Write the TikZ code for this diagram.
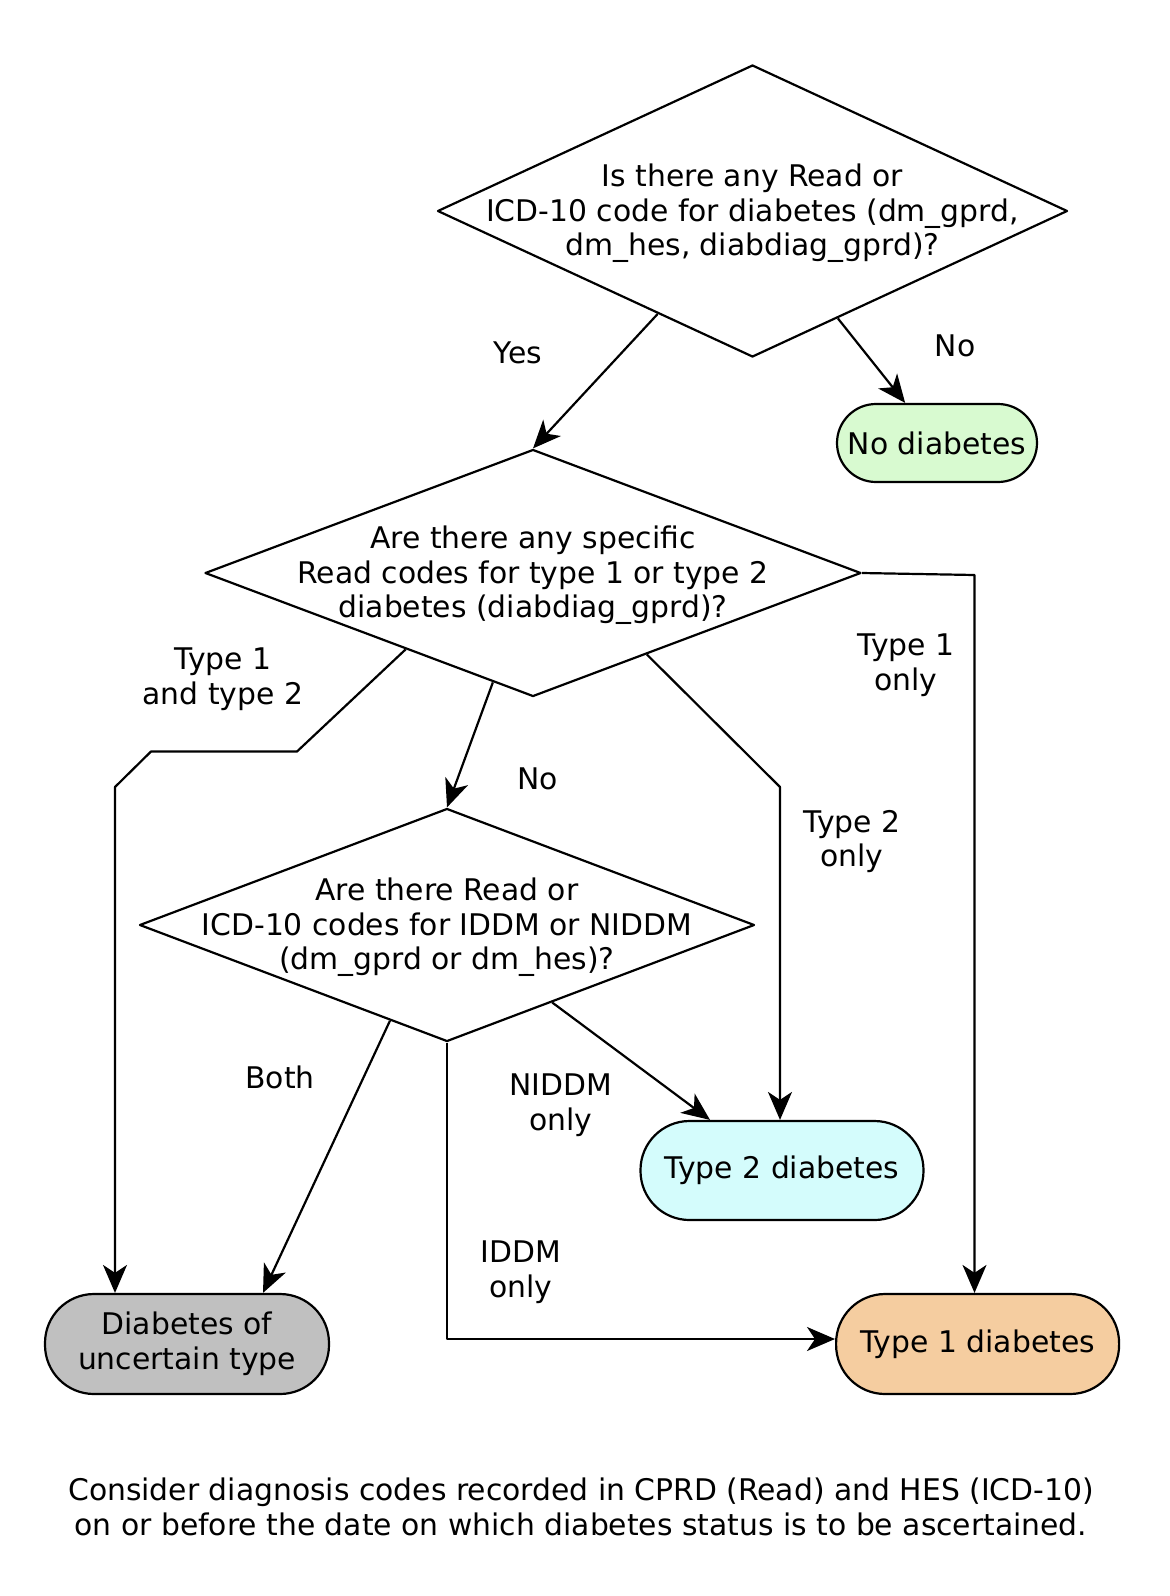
\documentclass[tikz,border=0pt]{standalone}
\usepackage{fontspec}
\setmainfont{DejaVu Sans}
\usetikzlibrary{shapes.geometric,arrows.meta,calc}
\definecolor{nodiab}{HTML}{D8FAD0}
\definecolor{typetwo}{HTML}{D4FCFC}
\definecolor{typeone}{HTML}{F5CDA0}
\definecolor{uncert}{HTML}{C0C0C0}
\tikzset{
  decision/.style={draw, diamond, line width=2.2pt, inner sep=0pt},
  outcome/.style={draw, rectangle, line width=2.2pt, inner sep=0pt, align=center},
  flow/.style={-{Stealth[length=28pt,width=24pt,inset=8pt]}, line width=2.2pt},
  lbl/.style={align=center},
  lbltwo/.style={align=center, yshift=-2.5pt}
}
\begin{document}
\begin{tikzpicture}[x=1pt,y=-1pt,line join=round,font=\fontsize{29.8}{34.6}\selectfont]
  \useasboundingbox (0,0) rectangle (1170,1596);
  % questions
  \node[decision, minimum width=630pt, minimum height=292pt] (q1) at (752.5,211) {};
  \node[lbltwo] (q1t) at (q1) {Is there any Read or\\ICD-10 code for diabetes (dm\_gprd,\\dm\_hes, diabdiag\_gprd)?};
  \node[decision, minimum width=656pt, minimum height=247pt] (q2) at (533,573) {};
  \node[lbltwo] (q2t) at (q2) {Are there any specific\\Read codes for type 1 or type 2\\diabetes (diabdiag\_gprd)?};
  \node[decision, minimum width=615pt, minimum height=233pt] (q3) at (447,925) {};
  \node[lbltwo] (q3t) at (q3) {Are there Read or\\ICD-10 codes for IDDM or NIDDM\\(dm\_gprd or dm\_hes)?};
  % outcomes
  \node[outcome, fill=nodiab, rounded corners=39pt, minimum width=200pt, minimum height=78pt] (nod) at (937,443) {No diabetes};
  \node[outcome, fill=typetwo, rounded corners=49pt, minimum width=283pt, minimum height=99pt] (t2) at (782,1170.5) {Type 2 diabetes};
  \node[outcome, fill=uncert, rounded corners=49pt, minimum width=284pt, minimum height=100pt] (unc) at (187,1344) {Diabetes of\\uncertain type};
  \node[outcome, fill=typeone, rounded corners=49pt, minimum width=283pt, minimum height=100pt] (t1) at (977.6,1344) {Type 1 diabetes};
  % bends
  \coordinate (b1) at (297,751.5);
  \coordinate (b2) at (151,751.5);
  \coordinate (b3) at (115,787);
  \coordinate (b4) at (780,787);
  \coordinate (b5) at (974.5,575);
  % connectors
  \draw[flow] ($(q1.south)!0.3!(q1.west)$) -- (q2.north);
  \draw[flow] ($(q1.south)!0.27!(q1.east)$) -- (nod);
  \draw[flow] ($(q2.south)!0.387!(q2.west)$) -- (b1) -- (b2) -- (b3) -- (b3 |- unc.north);
  \draw[flow] ($(q2.south)!0.122!(q2.west)$) -- (q3.north);
  \draw[flow] ($(q2.south)!0.346!(q2.east)$) -- (b4) -- (b4 |- t2.north);
  \draw[flow] (q2.east) -- (b5) -- (b5 |- t1.north);
  \draw[flow] ($(q3.south)!0.185!(q3.west)$) -- ($(unc.north)+(76,0)$);
  \draw[flow] ($(q3.south)!0.341!(q3.east)$) -- ($(t2.north)+(-72,0)$);
  \draw[flow] (q3.south) |- ($(t1.west)+(0,-5)$);
  % labels
  \node[lbl] (yes) at (518,353) {Yes};
  \node[lbl] (no1) at (955,346) {No};
  \node[lbltwo] (both12) at (223,677) {Type 1\\and type 2};
  \node[lbl] (no2) at (537.6,779) {No};
  \node[lbltwo] (only1) at (906,663) {Type 1\\only};
  \node[lbltwo] (only2) at (852,839) {Type 2\\only};
  \node[lbl] (both) at (280,1077) {Both};
  \node[lbltwo] (niddm) at (561,1103) {NIDDM\\only};
  \node[lbltwo] (iddm) at (521,1270) {IDDM\\only};
  \node[lbl] (note) at (581,1507) {Consider diagnosis codes recorded in CPRD (Read) and HES (ICD-10)\\on or before the date on which diabetes status is to be ascertained.};
\end{tikzpicture}
\end{document}
